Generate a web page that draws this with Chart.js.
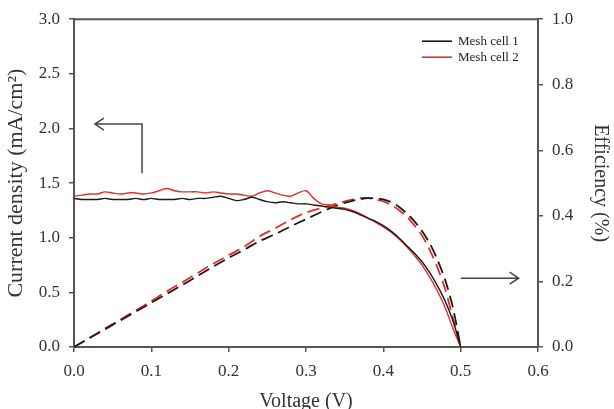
<!DOCTYPE html>
<html>
<head>
<meta charset="utf-8">
<script src="https://cdn.jsdelivr.net/npm/chart.js@4.4.1/dist/chart.umd.min.js"></script>
<style>
  html, body { margin: 0; padding: 0; background: #fff; }
  #wrap { width: 614px; height: 409px; }
</style>
</head>
<body>
<div id="wrap"><canvas id="ivChart"></canvas></div>
<script>
// voltage steps (V)
const voltage = [0.00, 0.01, 0.02, 0.03, 0.04, 0.05, 0.06, 0.07, 0.08, 0.09,
  0.10, 0.11, 0.12, 0.13, 0.14, 0.15, 0.16, 0.17, 0.18, 0.19,
  0.20, 0.21, 0.22, 0.23, 0.24, 0.25, 0.26, 0.27, 0.28, 0.29,
  0.30, 0.31, 0.32, 0.33, 0.34, 0.35, 0.36, 0.37, 0.38, 0.39,
  0.40, 0.41, 0.42, 0.43, 0.44, 0.45, 0.46, 0.47, 0.48, 0.49, 0.50];

// current density (mA/cm2)
const jCell1 = [1.36, 1.35, 1.35, 1.35, 1.36, 1.35, 1.35, 1.35, 1.36, 1.35,
  1.36, 1.35, 1.35, 1.35, 1.36, 1.35, 1.36, 1.36, 1.37, 1.38,
  1.36, 1.34, 1.35, 1.37, 1.35, 1.33, 1.32, 1.33, 1.32, 1.31,
  1.31, 1.30, 1.29, 1.28, 1.27, 1.26, 1.24, 1.21, 1.18, 1.15,
  1.11, 1.06, 1.00, 0.93, 0.86, 0.78, 0.68, 0.56, 0.42, 0.24, 0.00];

const jCell2 = [1.38, 1.39, 1.40, 1.40, 1.42, 1.41, 1.40, 1.41, 1.41, 1.40,
  1.41, 1.43, 1.45, 1.43, 1.42, 1.42, 1.42, 1.41, 1.42, 1.41,
  1.40, 1.40, 1.39, 1.38, 1.41, 1.43, 1.41, 1.39, 1.38, 1.41,
  1.43, 1.36, 1.31, 1.30, 1.28, 1.27, 1.25, 1.22, 1.18, 1.14,
  1.10, 1.05, 0.99, 0.92, 0.84, 0.75, 0.64, 0.51, 0.36, 0.17, 0.00];

// efficiency (%)
const voltageEff = [0.00, 0.02, 0.04, 0.06, 0.08, 0.10, 0.12, 0.14, 0.16, 0.18,
  0.20, 0.22, 0.24, 0.26, 0.28, 0.30, 0.32, 0.34, 0.36, 0.37, 0.38, 0.39,
  0.40, 0.41, 0.42, 0.43, 0.44, 0.45, 0.46, 0.47, 0.48, 0.49, 0.50];

const effCell1 = [0.000, 0.027, 0.054, 0.081, 0.108, 0.135, 0.162, 0.189, 0.217, 0.245,
  0.272, 0.297, 0.323, 0.344, 0.368, 0.390, 0.412, 0.432, 0.446, 0.451, 0.454, 0.454,
  0.450, 0.442, 0.428, 0.408, 0.384, 0.354, 0.316, 0.266, 0.204, 0.120, 0.000];

const effCell2 = [0.000, 0.028, 0.056, 0.084, 0.112, 0.140, 0.170, 0.197, 0.226, 0.254,
  0.280, 0.306, 0.338, 0.362, 0.388, 0.410, 0.424, 0.438, 0.450, 0.454, 0.454, 0.450,
  0.444, 0.433, 0.418, 0.398, 0.372, 0.340, 0.296, 0.242, 0.176, 0.088, 0.000];

const xTicks = [0.0, 0.1, 0.2, 0.3, 0.4, 0.5, 0.6];
const legendLabels = ["Mesh cell 1", "Mesh cell 2"];

const BLACK = "#1a1a1a";
const RED = "#e0302a";
const AXIS = "#555555";
const SERIF = "'Liberation Serif', 'Times New Roman', serif";

const pts = (xs, ys) => xs.map((x, i) => ({ x: x, y: ys[i] }));

// top border, legend and the two arrows
const extras = {
  id: "extras",
  afterDraw(chart) {
    const { ctx, chartArea: a, scales } = chart;
    const x = scales.x, yl = scales.y, yr = scales.y2;
    ctx.save();
    ctx.strokeStyle = AXIS;
    ctx.lineWidth = 2;
    ctx.beginPath();
    ctx.moveTo(a.left - 1, a.top);
    ctx.lineTo(a.right + 1, a.top);
    ctx.stroke();

    // legend
    ctx.font = "13px " + SERIF;
    ctx.textBaseline = "middle";
    [BLACK, RED].forEach((c, i) => {
      const ly = a.top + 22 + i * 16;
      ctx.strokeStyle = c;
      ctx.lineWidth = 1.6;
      ctx.beginPath();
      ctx.moveTo(422, ly);
      ctx.lineTo(452, ly);
      ctx.stroke();
      ctx.fillStyle = "#222";
      ctx.fillText(legendLabels[i], 458, ly);
    });

    // arrows
    ctx.strokeStyle = "#444";
    ctx.lineWidth = 1.5;
    const ax1 = x.getPixelForValue(0.027), ax2 = x.getPixelForValue(0.088);
    const ay1 = yl.getPixelForValue(2.04), ay2 = yl.getPixelForValue(1.59);
    ctx.beginPath();
    ctx.moveTo(ax2, ay2);
    ctx.lineTo(ax2, ay1);
    ctx.lineTo(ax1, ay1);
    ctx.moveTo(ax1 + 9, ay1 - 6);
    ctx.lineTo(ax1, ay1);
    ctx.lineTo(ax1 + 9, ay1 + 6);
    ctx.stroke();

    const bx1 = x.getPixelForValue(0.50), bx2 = x.getPixelForValue(0.575);
    const by = yr.getPixelForValue(0.21);
    ctx.beginPath();
    ctx.moveTo(bx1, by);
    ctx.lineTo(bx2, by);
    ctx.moveTo(bx2 - 9, by - 6);
    ctx.lineTo(bx2, by);
    ctx.lineTo(bx2 - 9, by + 6);
    ctx.stroke();
    ctx.restore();
  }
};

new Chart(document.getElementById("ivChart"), {
  type: "line",
  data: {
    datasets: [
      { label: legendLabels[0], data: pts(voltage, jCell1), yAxisID: "y",
        borderColor: BLACK, borderWidth: 1.4 },
      { label: legendLabels[1], data: pts(voltage, jCell2), yAxisID: "y",
        borderColor: RED, borderWidth: 1.4 },
      { label: "eff1", data: pts(voltageEff, effCell1), yAxisID: "y2",
        borderColor: BLACK, borderWidth: 1.8, borderDash: [12, 6] },
      { label: "eff2", data: pts(voltageEff, effCell2), yAxisID: "y2",
        borderColor: RED, borderWidth: 1.8, borderDash: [12, 6] }
    ]
  },
  options: {
    responsive: true,
    maintainAspectRatio: false,
    animation: false,
    layout: { padding: { top: 14, left: 0, right: 0, bottom: 0 } },
    elements: { point: { radius: 0 }, line: { tension: 0.3, fill: false } },
    plugins: { legend: { display: false }, tooltip: { enabled: false } },
    scales: {
      x: {
        type: "linear", min: 0, max: 0.6,
        afterBuildTicks: (s) => { s.ticks = xTicks.map(v => ({ value: v })); },
        afterFit: (s) => { s.height = 62; },
        grid: { drawOnChartArea: false, tickLength: 5, color: AXIS, lineWidth: 1.5 },
        border: { color: AXIS, width: 2 },
        ticks: { color: "#333", font: { family: SERIF, size: 17 }, padding: 9,
          callback: (v) => v.toFixed(1) },
        title: { display: true, text: "Voltage (V)", color: "#333",
          font: { family: SERIF, size: 20 }, padding: { top: 0, bottom: -5 } }
      },
      y: {
        position: "left", min: 0, max: 3,
        afterFit: (s) => { s.width = 74; },
        grid: { drawOnChartArea: false, tickLength: 5, color: AXIS, lineWidth: 1.5 },
        border: { color: AXIS, width: 2 },
        ticks: { stepSize: 0.5, color: "#333", font: { family: SERIF, size: 17 }, padding: 9,
          callback: (v) => v.toFixed(1) },
        title: { display: true, text: "Current density (mA/cm²)", color: "#333",
          font: { family: SERIF, size: 22 }, padding: { top: 3, bottom: 0 } }
      },
      y2: {
        position: "right", min: 0, max: 1,
        afterFit: (s) => { s.width = 76; },
        grid: { drawOnChartArea: false, tickLength: 5, color: AXIS, lineWidth: 1.5 },
        border: { color: AXIS, width: 2 },
        ticks: { stepSize: 0.2, color: "#333", font: { family: SERIF, size: 17 }, padding: 9,
          callback: (v) => v.toFixed(1) },
        title: { display: true, text: "Efficiency (%)", color: "#333",
          font: { family: SERIF, size: 20 }, padding: { top: 2, bottom: 0 } }
      }
    }
  },
  plugins: [extras]
});
</script>
</body>
</html>
